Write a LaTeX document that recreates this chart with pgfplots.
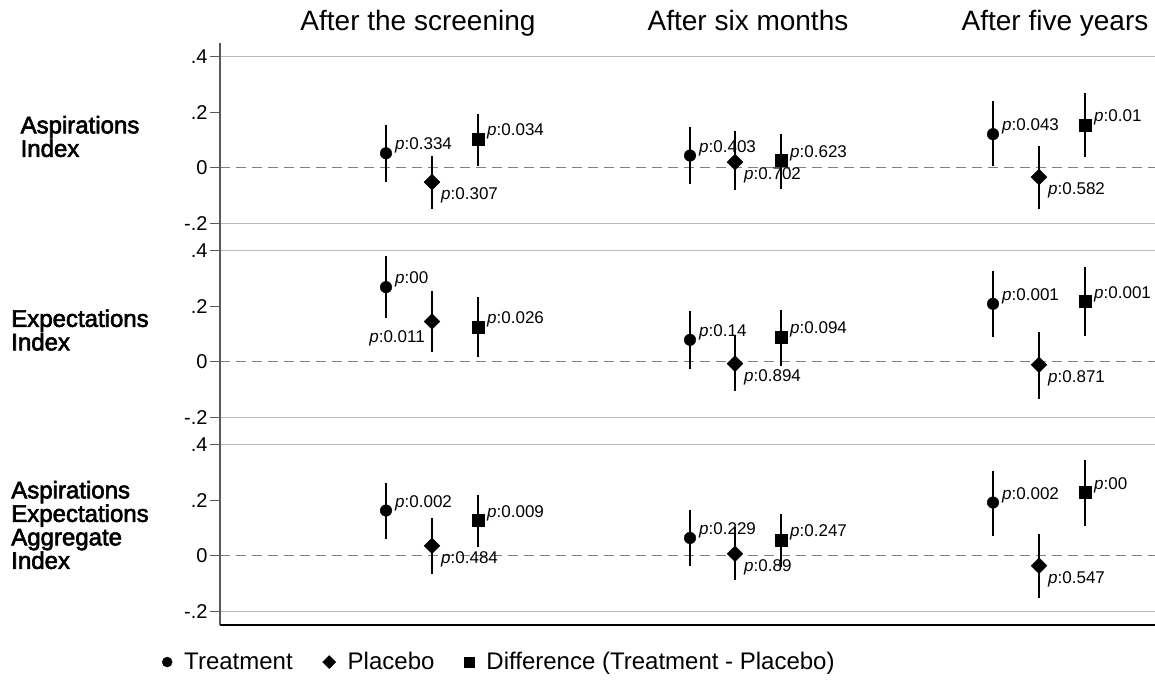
\documentclass[border=0pt]{standalone}
\usepackage{pgfplots}
\pgfplotsset{compat=1.18}
\usepackage{fontspec}
\setmainfont{Liberation Sans}
\newfontface\rowfont{Liberation Sans}[FakeBold=2.5]
\newcommand\labfont{\fontsize{17}{19}\selectfont}
\definecolor{axgray}{gray}{0.35}
\definecolor{gridgray}{gray}{0.72}
\definecolor{dashgray}{gray}{0.5}
\pgfplotsset{
  panel/.style={width=935pt, height=194pt, scale only axis, anchor=south west,
    xmin=220, xmax=1155, ymin=-0.25, ymax=0.45,
    axis line style={draw=none},
    xtick=\empty,
    ytick={-0.2,0,0.2,0.4}, yticklabels={-.2,0,.2,.4},
    ytick pos=left, major tick length=0pt,
    yticklabel style={font=\fontsize{20}{22}\selectfont, text=black, xshift=-9pt},
    clip=false},
  ebar/.style={only marks, black, forget plot,
    error bars/y dir=both, error bars/y explicit, error bars/error mark=none,
    error bars/error bar style={line width=2pt, black}},
  mT/.style={mark=*, mark size=5.8pt},
  mP/.style={mark=square*, mark size=5.6pt, mark options={rotate=45}},
  mD/.style={mark=square*, mark size=6pt},
  labUp/.style={nodes near coords={\textit{p}:\pgfplotspointmeta}, point meta=explicit symbolic,
    every node near coord/.append style={anchor=base west, inner sep=0pt, xshift=9pt, yshift=3.5pt, font=\labfont, text=black}},
  labDown/.style={nodes near coords={\textit{p}:\pgfplotspointmeta}, point meta=explicit symbolic,
    every node near coord/.append style={anchor=base west, inner sep=0pt, xshift=9pt, yshift=-17.5pt, font=\labfont, text=black}},
  labLeft/.style={nodes near coords={\textit{p}:\pgfplotspointmeta}, point meta=explicit symbolic,
    every node near coord/.append style={anchor=base east, inner sep=0pt, xshift=-7pt, yshift=-21pt, font=\labfont, text=black}},
  /pgfplots/table/tabopts/.style={x=x, y=y, y error plus expr=\thisrow{hi}-\thisrow{y}, y error minus expr=\thisrow{y}-\thisrow{lo}, meta=lab},
}
\newcommand\reflines{%
  \addplot[gridgray, line width=1.1pt, forget plot] coordinates {(220,0.4) (1155,0.4)};
  \addplot[gridgray, line width=1.1pt, forget plot] coordinates {(220,-0.2) (1155,-0.2)};
  \addplot[dashgray, line width=1.1pt, dash pattern=on 10pt off 6pt, forget plot] coordinates {(220,0) (1155,0)};
  \addplot[axgray, line width=1.3pt, forget plot] coordinates {(220,-0.25) (220,0.45)};
  \addplot[axgray, line width=1pt, forget plot] coordinates {(210,0.4) (220,0.4)};
  \addplot[axgray, line width=1pt, forget plot] coordinates {(210,0.2) (220,0.2)};
  \addplot[axgray, line width=1pt, forget plot] coordinates {(210,0) (220,0)};
  \addplot[axgray, line width=1pt, forget plot] coordinates {(210,-0.2) (220,-0.2)};
}
\begin{document}
\begin{tikzpicture}[x=1pt,y=1pt]
\useasboundingbox (0,0) rectangle (1155,680);

% ---------- Panel 1: Aspirations Index
\begin{axis}[panel, at={(220pt,443pt)}]
\reflines
\addplot[ebar, mT, labUp] table[tabopts] {
x y lo hi lab
386 0.052 -0.052 0.155 0.334
690 0.044 -0.059 0.147 0.403
993 0.121 0.005 0.239 0.043
};
\addplot[ebar, mP, labDown] table[tabopts] {
x y lo hi lab
432 -0.052 -0.148 0.044 0.307
735 0.020 -0.079 0.131 0.702
1039 -0.034 -0.148 0.080 0.582
};
\addplot[ebar, mD, labUp] table[tabopts] {
x y lo hi lab
478 0.103 0.007 0.195 0.034
781 0.026 -0.076 0.122 0.623
1085 0.155 0.039 0.269 0.01
};
\end{axis}

% ---------- Panel 2: Expectations Index
\begin{axis}[panel, at={(220pt,249pt)}]
\reflines
\addplot[ebar, mT, labUp] table[tabopts] {
x y lo hi lab
386 0.269 0.157 0.382 00
690 0.079 -0.025 0.184 0.14
993 0.209 0.089 0.328 0.001
};
\addplot[ebar, mP, labLeft] table[tabopts] {
x y lo hi lab
432 0.145 0.034 0.256 0.011
};
\addplot[ebar, mP, labDown] table[tabopts] {
x y lo hi lab
735 -0.007 -0.107 0.091 0.894
1039 -0.011 -0.133 0.109 0.871
};
\addplot[ebar, mD, labUp] table[tabopts] {
x y lo hi lab
478 0.124 0.016 0.232 0.026
781 0.088 -0.014 0.186 0.094
1085 0.217 0.094 0.343 0.001
};
\end{axis}

% ---------- Panel 3: Aggregate Index
\begin{axis}[panel, at={(220pt,55pt)},
  legend style={at={(-0.062,-0.191)}, anchor=west, draw=none, fill=none, legend columns=3,
    font=\fontsize{24}{26}\selectfont, inner sep=0pt,
    /tikz/every odd column/.append style={column sep=10pt},
    /tikz/every even column/.append style={column sep=28pt}},
  legend cell align=left]
\reflines
\addplot[black, line width=1.3pt, forget plot] coordinates {(220,-0.25) (1155,-0.25)};
\addplot[ebar, mT, labUp] table[tabopts] {
x y lo hi lab
386 0.163 0.060 0.264 0.002
690 0.064 -0.038 0.166 0.229
993 0.192 0.072 0.307 0.002
};
\addplot[ebar, mP, labDown] table[tabopts] {
x y lo hi lab
432 0.036 -0.065 0.136 0.484
735 0.007 -0.089 0.103 0.89
1039 -0.036 -0.152 0.079 0.547
};
\addplot[ebar, mD, labUp] table[tabopts] {
x y lo hi lab
478 0.127 0.031 0.220 0.009
781 0.055 -0.040 0.150 0.247
1085 0.228 0.106 0.346 00
};
\addlegendimage{only marks, black, mark=*, mark size=5pt}
\addlegendentry{Treatment}
\addlegendimage{only marks, black, mark=square*, mark size=4.6pt, mark options={rotate=45}}
\addlegendentry{Placebo}
\addlegendimage{only marks, black, mark=square*, mark size=5pt}
\addlegendentry{Difference (Treatment - Placebo)}
\end{axis}

% ---------- column titles
\begin{scope}[font=\fontsize{28}{30}\selectfont]
\node[anchor=base, inner sep=0pt] at (418,649) {After the screening};
\node[anchor=base, inner sep=0pt] at (748,649) {After six months};
\node[anchor=base, inner sep=0pt] at (1055,649) {After five years};
\end{scope}

% ---------- row labels
\begin{scope}[font=\rowfont\fontsize{24}{23.5}\selectfont]
\node[align=left, inner sep=0pt] at (80,543.5) {Aspirations\\Index};
\node[align=left, inner sep=0pt] at (80,350) {Expectations\\Index};
\node[align=left, inner sep=0pt] at (80,155) {Aspirations\\Expectations\\Aggregate\\Index};
\end{scope}
\end{tikzpicture}
\end{document}
